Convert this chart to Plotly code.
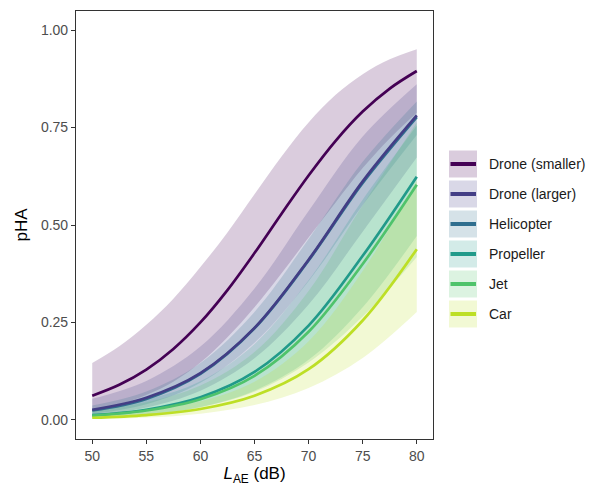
import plotly.graph_objects as go

# ---------------- data ----------------
lae = [50, 55, 60, 65, 70, 75, 80]
lae_fine = [50, 52.5, 55, 57.5, 60, 62.5, 65, 67.5, 70, 72.5, 75, 77.5, 80]
categories = ["Drone (smaller)", "Drone (larger)", "Helicopter", "Propeller", "Jet", "Car"]

drone_small_fit = [0.062, 0.090, 0.129, 0.182, 0.250, 0.333, 0.428, 0.529, 0.627, 0.716, 0.791, 0.850, 0.895]
drone_small_lo = [0.025, 0.040, 0.064, 0.098, 0.147, 0.212, 0.289, 0.376, 0.468, 0.558, 0.646, 0.722, 0.788]
drone_small_hi = [0.146, 0.189, 0.244, 0.311, 0.392, 0.481, 0.579, 0.676, 0.763, 0.834, 0.887, 0.925, 0.951]

drone_large_fit = [0.026, 0.057, 0.120, 0.236, 0.411, 0.612, 0.781]
drone_large_lo = [0.013, 0.032, 0.075, 0.158, 0.296, 0.483, 0.673]
drone_large_hi = [0.054, 0.100, 0.188, 0.337, 0.536, 0.727, 0.861]

heli_fit = [0.024, 0.054, 0.118, 0.235, 0.409, 0.608, 0.777]
heli_lo = [0.015, 0.040, 0.095, 0.198, 0.356, 0.551, 0.731]
heli_hi = [0.037, 0.073, 0.146, 0.277, 0.464, 0.662, 0.817]

prop_fit = [0.012, 0.026, 0.058, 0.123, 0.242, 0.421, 0.624]
prop_lo = [0.005, 0.013, 0.033, 0.075, 0.154, 0.289, 0.472]
prop_hi = [0.028, 0.052, 0.099, 0.195, 0.358, 0.565, 0.755]

jet_fit = [0.011, 0.024, 0.053, 0.113, 0.226, 0.400, 0.603]
jet_lo = [0.005, 0.013, 0.032, 0.072, 0.147, 0.265, 0.418]
jet_hi = [0.025, 0.045, 0.088, 0.174, 0.331, 0.551, 0.763]

car_fit = [0.0055, 0.0125, 0.028, 0.062, 0.130, 0.255, 0.438]
car_lo = [0.002, 0.006, 0.016, 0.038, 0.082, 0.159, 0.277]
car_hi = [0.015, 0.025, 0.048, 0.098, 0.202, 0.382, 0.613]

x_ticks = [50, 55, 60, 65, 70, 75, 80]
y_ticks = [0.00, 0.25, 0.50, 0.75, 1.00]
y_tick_labels = ["0.00", "0.25", "0.50", "0.75", "1.00"]

# ---------------- styling ----------------
colors = ["#440154", "#433E85", "#2F6E8E", "#219A8A", "#4FC36B", "#BDDF26"]
FONT = "Liberation Sans, Arial, sans-serif"


def rgba(hex_color, a):
    h = hex_color.lstrip("#")
    r, g, b = int(h[0:2], 16), int(h[2:4], 16), int(h[4:6], 16)
    return f"rgba({r},{g},{b},{a})"


xs = [lae_fine, lae, lae, lae, lae, lae]
fits = [drone_small_fit, drone_large_fit, heli_fit, prop_fit, jet_fit, car_fit]
los = [drone_small_lo, drone_large_lo, heli_lo, prop_lo, jet_lo, car_lo]
his = [drone_small_hi, drone_large_hi, heli_hi, prop_hi, jet_hi, car_hi]

fig = go.Figure()

# ribbons first
for name, col, xv, lo, hi in zip(categories, colors, xs, los, his):
    fig.add_trace(go.Scatter(x=xv, y=lo, mode="lines", line=dict(width=0, shape="spline", color=col),
                             showlegend=False, hoverinfo="skip"))
    fig.add_trace(go.Scatter(x=xv, y=hi, mode="lines", line=dict(width=0, shape="spline", color=col),
                             fill="tonexty", fillcolor=rgba(col, 0.2), showlegend=False, hoverinfo="skip"))

# lines on top (helicopter drawn beneath drone (larger))
line_order = [0, 2, 1, 3, 4, 5]
for i in line_order:
    fig.add_trace(go.Scatter(x=xs[i], y=fits[i], mode="lines", name=categories[i],
                             line=dict(width=2.7, shape="spline", color=colors[i]), showlegend=False))

# ---------------- layout ----------------
L, R, T, B = 76, 159, 11, 47
W, H = 592, 486
pw, ph = W - L - R, H - T - B


def px_x(p):
    return (p - L) / pw


def px_y(p):
    return (H - B - p) / ph


shapes = []
annotations = []
for i, (name, col) in enumerate(zip(categories, colors)):
    yc = 164 + 30 * i
    shapes.append(dict(type="rect", xref="paper", yref="paper",
                       x0=px_x(449), x1=px_x(477), y0=px_y(yc + 13.5), y1=px_y(yc - 13.5),
                       fillcolor=rgba(col, 0.2), line=dict(width=0)))
    shapes.append(dict(type="line", xref="paper", yref="paper",
                       x0=px_x(450.5), x1=px_x(476), y0=px_y(yc), y1=px_y(yc),
                       line=dict(color=col, width=4)))
    annotations.append(dict(text=name, xref="paper", yref="paper", x=px_x(487), y=px_y(yc),
                            xanchor="left", yanchor="middle", showarrow=False,
                            font=dict(family=FONT, size=14, color="#1a1a1a")))

fig.update_layout(
    width=W, height=H,
    margin=dict(l=L, r=R, t=T, b=B, autoexpand=False),
    paper_bgcolor="white", plot_bgcolor="white",
    font=dict(family=FONT),
    showlegend=False,
    shapes=shapes, annotations=annotations,
)

axis_common = dict(showgrid=False, zeroline=False, showline=True, linecolor="#333333", linewidth=1.1,
                   mirror=True, ticks="outside", ticklen=4, tickwidth=1.1, tickcolor="#333333",
                   automargin=False,
                   tickfont=dict(family=FONT, size=14, color="#4d4d4d"))

fig.update_xaxes(range=[48.5, 81.5], tickvals=x_ticks,
                 title=dict(text="<i>L</i><sub>AE</sub> (dB)", font=dict(family=FONT, size=17, color="black"),
                            standoff=4),
                 **axis_common)
fig.update_yaxes(range=[-0.049, 1.049], tickvals=y_ticks, ticktext=y_tick_labels,
                 title=dict(text="pHA", font=dict(family=FONT, size=17, color="black"), standoff=8),
                 **axis_common)

fig.write_html("out.html")
